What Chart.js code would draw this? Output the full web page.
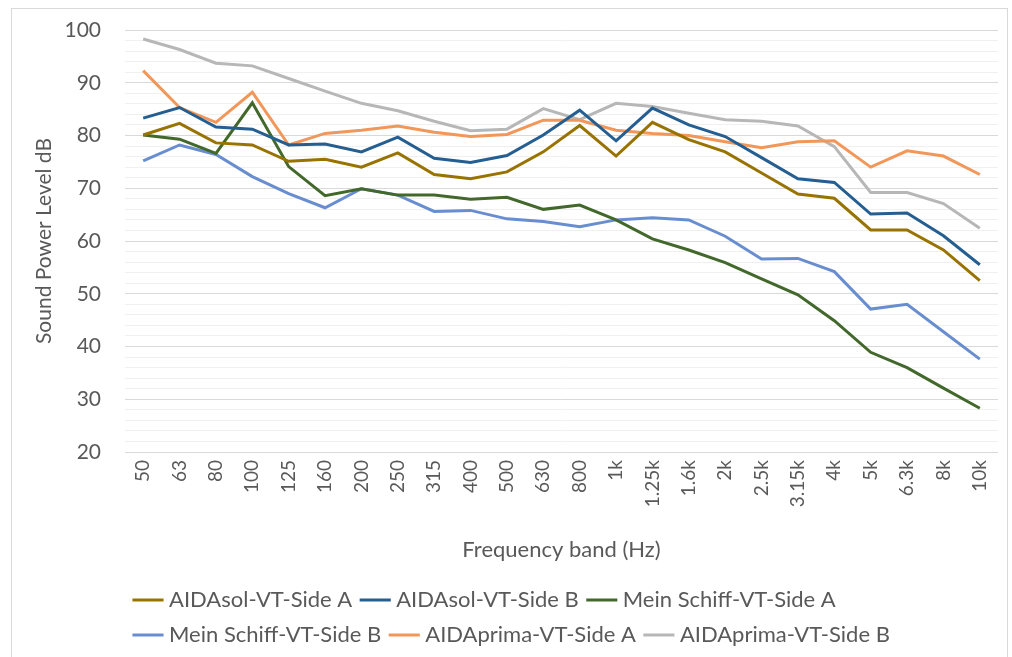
<!DOCTYPE html>
<html>
<head>
<meta charset="utf-8">
<script src="https://cdn.jsdelivr.net/npm/chart.js@4/dist/chart.umd.min.js"></script>
<style>
  html, body { margin: 0; padding: 0; background: #fff; overflow: hidden; }
  #frame { position: absolute; left: 11px; top: 8px; width: 995px; height: 700px; border: 1px solid #d9d9d9; }
  #myChart { position: absolute; left: 0; top: 0; }
</style>
</head>
<body>
<div id="frame"></div>
<canvas id="myChart" width="1012" height="680"></canvas>
<script>
// Frequency bands and sound power levels (dB)
const bands = ['50', '63', '80', '100', '125', '160', '200', '250', '315', '400', '500', '630',
               '800', '1k', '1.25k', '1.6k', '2k', '2.5k', '3.15k', '4k', '5k', '6.3k', '8k', '10k'];

const aidasolA = [80.1, 82.3, 78.6, 78.2, 75.1, 75.5, 74.0, 76.7, 72.6, 71.8, 73.1, 76.9,
                  81.9, 76.1, 82.5, 79.2, 76.9, 72.9, 68.9, 68.1, 62.1, 62.1, 58.3, 52.5];
const aidasolB = [83.3, 85.3, 81.6, 81.2, 78.2, 78.4, 76.9, 79.7, 75.7, 74.9, 76.2, 80.1,
                  84.8, 79.0, 85.2, 82.0, 79.8, 75.8, 71.8, 71.1, 65.1, 65.3, 61.0, 55.5];
const meinSchiffA = [80.1, 79.3, 76.6, 86.2, 74.1, 68.6, 69.9, 68.7, 68.7, 67.9, 68.3, 66.0,
                     66.8, 64.0, 60.4, 58.3, 55.9, 52.8, 49.8, 44.9, 38.9, 36.0, 32.1, 28.3];
const meinSchiffB = [75.2, 78.2, 76.4, 72.2, 69.0, 66.3, 69.9, 68.7, 65.6, 65.8, 64.2, 63.7,
                     62.7, 64.0, 64.4, 64.0, 60.9, 56.6, 56.7, 54.2, 47.1, 48.0, 42.8, 37.6];
const aidaprimaA = [92.3, 85.3, 82.5, 88.2, 78.2, 80.4, 81.0, 81.8, 80.6, 79.8, 80.2, 82.9,
                    82.9, 81.0, 80.4, 80.0, 78.8, 77.7, 78.8, 79.0, 74.0, 77.1, 76.1, 72.6];
const aidaprimaB = [98.3, 96.3, 93.7, 93.2, 90.8, 88.4, 86.1, 84.7, 82.7, 80.9, 81.2, 85.1,
                    83.0, 86.1, 85.5, 84.2, 83.0, 82.7, 81.8, 77.9, 69.2, 69.2, 67.1, 62.4];

const seriesNames = ['AIDAsol-VT-Side A', 'AIDAsol-VT-Side B', 'Mein Schiff-VT-Side A',
                     'Mein Schiff-VT-Side B', 'AIDAprima-VT-Side A', 'AIDAprima-VT-Side B'];
const seriesData = [aidasolA, aidasolB, meinSchiffA, meinSchiffB, aidaprimaA, aidaprimaB];
const seriesColors = ['#997300', '#255E91', '#43682B', '#698ED0', '#F1975A', '#B7B7B7'];

const textColor = '#595959';
const fontFamily = 'Lato, "Open Sans", sans-serif';

window.addEventListener('DOMContentLoaded', event => {
    const ctx = document.getElementById('myChart');

    const datasets = seriesNames.map((name, i) => ({
        label: name,
        data: seriesData[i],
        borderColor: seriesColors[i],
        backgroundColor: seriesColors[i],
        borderWidth: 3,
        pointRadius: 0,
        pointHoverRadius: 0,
        tension: 0,
        fill: false
    }));

    new Chart(ctx, {
        type: 'line',
        data: {
            labels: bands,
            datasets: datasets
        },
        options: {
            responsive: false,
            animation: false,
            layout: {
                padding: { top: 30, right: 14, left: 11, bottom: 24 }
            },
            plugins: {
                tooltip: { enabled: false },
                legend: {
                    position: 'bottom',
                    fullSize: false,
                    align: 'start',
                    labels: {
                        color: textColor,
                        font: { family: fontFamily, size: 22 },
                        usePointStyle: true,
                        pointStyle: 'line',
                        boxWidth: 20,
                        padding: 13
                    }
                }
            },
            scales: {
                x: {
                    offset: true,
                    grid: { display: false, drawTicks: false },
                    border: { display: false },
                    ticks: {
                        color: textColor,
                        font: { family: fontFamily, size: 19 },
                        minRotation: 90,
                        maxRotation: 90,
                        autoSkip: false,
                        padding: 8
                    },
                    title: {
                        display: true,
                        text: 'Frequency band (Hz)',
                        color: textColor,
                        font: { family: fontFamily, size: 22 },
                        padding: { top: 0, bottom: 13 }
                    },
                    afterFit: scale => { scale.height = 124; }
                },
                y: {
                    min: 20,
                    max: 100,
                    grid: {
                        drawTicks: true,
                        tickLength: 20,
                        tickColor: 'rgba(0,0,0,0)',
                        lineWidth: 1,
                        color: c => (c.tick && c.tick.value % 10 === 0) ? '#d9d9d9' : '#f0f0f0'
                    },
                    border: { display: false },
                    ticks: {
                        stepSize: 2,
                        autoSkip: false,
                        color: textColor,
                        font: { family: fontFamily, size: 21 },
                        padding: 4,
                        callback: value => (value % 10 === 0 ? value : '')
                    },
                    title: {
                        display: true,
                        text: 'Sound Power Level dB',
                        color: textColor,
                        font: { family: fontFamily, size: 21 },
                        padding: { top: 21, bottom: 0 }
                    },
                    afterFit: scale => { scale.width = 114; }
                }
            }
        }
    });
});
</script>
</body>
</html>
